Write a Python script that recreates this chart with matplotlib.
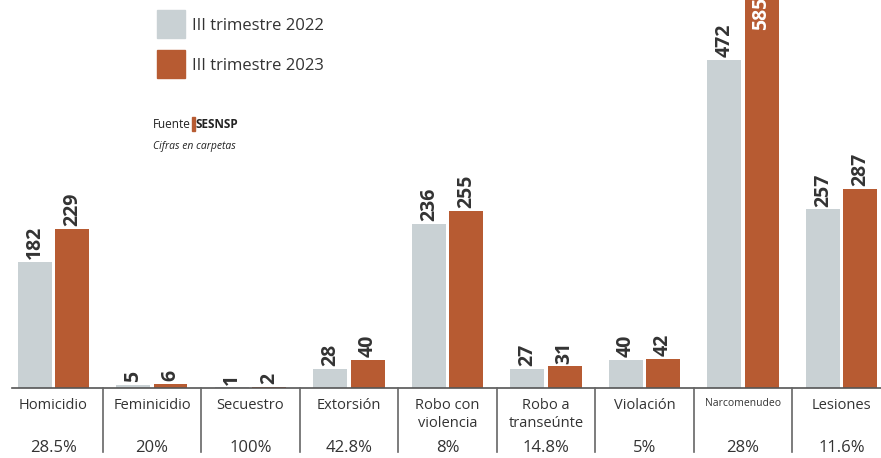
import matplotlib
matplotlib.use("Agg")
import matplotlib.pyplot as plt
import matplotlib.transforms as mtransforms
import numpy as np

plt.rcParams["font.family"] = ["Open Sans", "DejaVu Sans"]

categories = ["Homicidio", "Feminicidio", "Secuestro", "Extorsión", "Robo con\nviolencia",
              "Robo a\ntranseúnte", "Violación", "Narcomenudeo", "Lesiones"]
values_2022 = [182, 5, 1, 28, 236, 27, 40, 472, 257]
values_2023 = [229, 6, 2, 40, 255, 31, 42, 585, 287]
pct_change = ["28.5%", "20%", "100%", "42.8%", "8%", "14.8%", "5%", "28%", "11.6%"]

GRAY = "#c9d1d4"
ORANGE = "#b75b32"
TEXT = "#333333"

fig = plt.figure(figsize=(8.81, 4.58), dpi=100)
# baseline sits at y=388 px of 458
ax = fig.add_axes([0, 1 - 388 / 458, 1, 388 / 458])
ax.set_xlim(-0.543, 8.401)
ax.set_ylim(0, 388 / 0.695)
ax.axis("off")

x = np.arange(len(categories))
w = 0.345
off = 0.188
ax.bar(x - off, values_2022, w, color=GRAY)
ax.bar(x + off, values_2023, w, color=ORANGE)

ylim_top = ax.get_ylim()[1]
for xi, v in zip(x - off, values_2022):
    ax.text(xi, v + 4, f"{v}", rotation=90, ha="center", va="bottom",
            fontsize=14, fontweight="bold", color=TEXT)
for xi, v in zip(x + off, values_2023):
    if v + 60 > ylim_top:
        # bar runs off the top, label goes inside in white
        ax.text(xi, v - 22, f"{v}", rotation=90, ha="center", va="top",
                fontsize=14, fontweight="bold", color="white", clip_on=True)
    else:
        ax.text(xi, v + 4, f"{v}", rotation=90, ha="center", va="bottom",
                fontsize=14, fontweight="bold", color=TEXT)

# baseline and separators
ax.plot([-0.42, 8.401], [0, 0], color="#555555", lw=1.2, clip_on=False)
trans = mtransforms.blended_transform_factory(ax.transData, fig.transFigure)
for i in range(len(categories) - 1):
    xs = i + 0.5
    ax.plot([xs, xs], [1 - 388 / 458, 1 - 452 / 458], color="#666666", lw=1.2,
            transform=trans, clip_on=False)

for i, (cat, pct) in enumerate(zip(categories, pct_change)):
    fs = 7.5 if cat == "Narcomenudeo" else 10.5
    ax.text(i, 1 - 398 / 458, cat, transform=trans, ha="center", va="top",
            fontsize=fs, color=TEXT, linespacing=1.3)
    ax.text(i, 1 - 448 / 458, pct, transform=trans, ha="center", va="center",
            fontsize=12, color=TEXT)

# legend
fig.patches.append(plt.Rectangle((157 / 881, 1 - 38 / 458), 28 / 881, 28 / 458,
                                 transform=fig.transFigure, color=GRAY))
fig.patches.append(plt.Rectangle((157 / 881, 1 - 78 / 458), 28 / 881, 28 / 458,
                                 transform=fig.transFigure, color=ORANGE))
fig.text(192 / 881, 1 - 26 / 458, "III trimestre 2022", fontsize=12, color=TEXT, va="center")
fig.text(192 / 881, 1 - 66 / 458, "III trimestre 2023", fontsize=12, color=TEXT, va="center")

# source line, pieces placed one after another
renderer = fig.canvas.get_renderer()
t1 = fig.text(153 / 881, 1 - 124 / 458, "Fuente", fontsize=8.5, color="#222222", va="center")
x1 = t1.get_window_extent(renderer).x1
fig.patches.append(plt.Rectangle(((x1 + 1) / 881, 1 - 131 / 458), 3 / 881, 14 / 458,
                                 transform=fig.transFigure, color=ORANGE))
fig.text((x1 + 5) / 881, 1 - 124 / 458, "SESNSP", fontsize=8.5, color="#222222",
         va="center", fontweight="bold")
fig.text(153 / 881, 1 - 146 / 458, "Cifras en carpetas", fontsize=7.5, color="#222222",
         va="center", style="italic")

fig.savefig("out.png", dpi=100)
